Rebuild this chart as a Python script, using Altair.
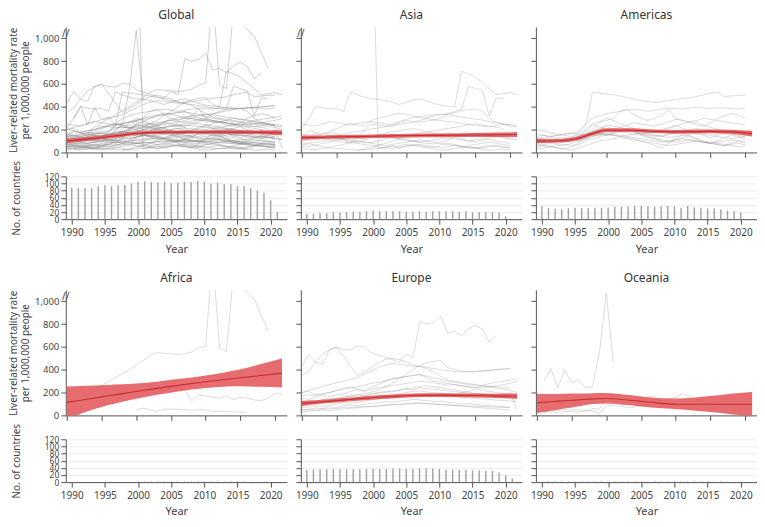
import altair as alt
import pandas as pd

YEARS = list(range(1990, 2022))
TREND_YEARS = [1990, 1992, 1994, 1996, 1998, 2000, 2003, 2006, 2010, 2015, 2018, 2021]
TICK_YEARS = [1990, 1995, 2000, 2005, 2010, 2015, 2020]
RATE_TICKS = [0, 200, 400, 600, 800, 1000]
COUNT_TICKS = [0, 20, 40, 60, 80, 100, 120]
N = None

# ---------------- country lines (rate per 1,000,000), 1990..2021 ----------------
asia_lines = {
    "as_a": [210, 300, 400, 390, 380, 385, 360, 530, 505, 485, 470, 465, 455, 440, 420, 440, 460, 470, 450, 430, 415, 405, 400, 710, 690, 660, 610, 560, 505, 515, 525, 505],
    "as_b": [N, N, N, N, N, N, N, N, N, N, 2500, 30, 45, 60, 40, 55, 70, 60, 50, 45, 65, 80, 70, 55, 45, 40, 50, 60, 55, 45, 40, N],
    "as_c": [120, 190, 175, 165, 180, 205, 235, 255, 240, 235, 280, 300, 315, 330, 345, 335, 320, 305, 300, 285, 280, 270, 265, 255, 245, 235, 230, 225, 235, 245, 230, 225],
    "as_d": [160, 150, 165, 140, 150, 130, 110, 85, 125, 200, 250, 240, 230, 225, 260, 280, 270, 265, 275, 285, 300, 335, 350, 365, 375, 385, 360, 300, 265, 250, 240, N],
    "as_e": [95, 105, 115, 125, 135, 145, 160, 175, 185, 190, 205, 215, 225, 245, 270, 290, 305, 315, 320, 330, 335, 330, 320, 310, 300, 290, 285, 270, 260, 250, 245, 235],
    "as_f": [60, 75, 65, 80, 90, 105, 120, 110, 100, 90, 85, 100, 115, 130, 120, 110, 100, 90, 80, 75, 90, 110, 130, 120, 100, 95, 105, 115, 100, 90, 80, N],
    "as_g": [40, 55, 60, 50, 45, 60, 70, 90, 80, 70, 60, 50, 40, 35, 40, 55, 60, 70, 60, 50, 40, 50, 65, 50, 40, 35, 40, 50, 60, 50, 40, N],
    "as_h": [20, 30, 25, 35, 40, 35, 30, 25, 20, 25, 30, 35, 45, 50, 60, 70, 60, 50, 40, 30, 20, 25, 35, 40, 50, 40, 30, 20, 25, 30, 20, N],
    "as_i": [140, 135, 150, 160, 170, 165, 150, 140, 130, 120, 135, 150, 170, 180, 190, 200, 210, 195, 180, 170, 160, 150, 140, 150, 160, 170, 165, 150, 140, 130, 120, N],
    "as_j": [75, 80, 90, 100, 115, 120, 110, 100, 90, 110, 130, 150, 140, 130, 120, 110, 100, 90, 100, 110, 120, 130, 120, 110, 100, 110, 120, 130, 140, 135, 120, 110],
    "as_k": [N, N, N, N, N, N, N, N, 20, 30, 45, 60, 80, 100, 120, 140, 160, 170, 180, 190, 200, 210, 220, 230, 245, 250, 240, 230, 220, 210, N, N],
    "as_l": [110, 120, 135, 120, 110, 100, 90, 80, 100, 90, 80, 70, 60, 70, 80, 90, 100, 110, 100, 90, 80, 70, 60, 50, 60, 70, 80, 90, 80, 70, 60, N],
    "as_m": [250, 240, 230, 250, 270, 260, 250, 240, 255, 265, 270, 260, 250, 240, 245, 255, 265, 280, 300, 320, 330, 340, 360, 380, 580, 560, 540, 320, 480, 470, N, N],
}

americas_lines = {
    "am_a": [120, 130, 140, 150, 160, 170, 180, 230, 530, 520, 512, 505, 495, 480, 470, 455, 445, 437, 445, 455, 465, 475, 480, 490, 505, 520, 528, 490, 495, 500, 503, N],
    "am_b": [100, 110, 120, 110, 120, 130, 180, 250, 300, 320, 340, 350, 360, 370, 380, 370, 360, 370, 380, 390, 385, 380, 390, 395, 390, 385, 390, 390, 385, 380, 390, N],
    "am_c": [140, 150, 130, 120, 100, 90, 150, 200, 250, 270, 280, 300, 360, 380, 330, 300, 280, 300, 320, 380, 300, 280, 260, 240, 230, 260, 300, 320, 340, 330, 300, N],
    "am_d": [80, 90, 100, 110, 100, 120, 130, 190, 240, 220, 200, 180, 190, 200, 210, 190, 170, 150, 140, 160, 180, 190, 200, 210, 200, 190, 180, 170, 160, 150, 140, N],
    "am_e": [60, 70, 80, 70, 60, 80, 100, 120, 180, 200, 230, 200, 180, 210, 190, 160, 140, 120, 100, 90, 110, 130, 150, 120, 90, 80, 100, 130, 150, 140, 120, N],
    "am_f": [200, 190, 170, 160, 150, 140, 150, 170, 200, 260, 300, 280, 250, 230, 210, 190, 180, 170, 190, 210, 230, 250, 270, 260, 240, 220, 200, 190, 180, 170, 160, N],
    "am_g": [30, 40, 50, 40, 30, 50, 70, 100, 120, 140, 150, 160, 150, 140, 130, 120, 110, 100, 90, 100, 110, 120, 110, 100, 90, 80, 90, 100, 110, 100, 90, N],
    "am_h": [160, 150, 140, 150, 160, 170, 160, 150, 180, 210, 240, 230, 220, 240, 260, 250, 240, 230, 250, 270, 290, 280, 270, 280, 300, 290, 280, 270, 260, 250, 240, N],
    "am_i": [50, 60, 50, 40, 30, 20, 40, 60, 80, 100, 110, 120, 130, 120, 110, 100, 90, 80, 70, 60, 70, 80, 90, 100, 90, 80, 70, 60, 70, 80, 70, N],
    "am_j": [110, 100, 90, 80, 90, 100, 110, 120, 140, 160, 150, 170, 190, 200, 180, 160, 150, 140, 150, 160, 170, 180, 190, 200, 190, 180, 170, 180, 190, 180, 170, N],
    "am_k": [90, 100, 110, 120, 130, 120, 100, 150, 180, 170, 160, 170, 180, 170, 160, 150, 130, 120, 110, 100, 90, 100, 110, 100, 90, 80, 70, 60, 80, 100, 90, N],
    "am_l": [70, 60, 50, 60, 70, 60, 80, 120, 140, 160, 180, 200, 220, 200, 180, 160, 170, 180, 200, 220, 240, 210, 190, 170, 150, 130, 150, 170, 190, 170, 150, N],
    "am_m": [130, 120, 110, 100, 110, 120, 130, 140, 150, 150, 160, 150, 140, 150, 160, 170, 160, 150, 140, 130, 140, 150, 160, 170, 160, 150, 140, 130, 120, 130, 140, N],
    "am_n": [N, 90, 100, 110, 120, 130, 140, 160, 180, 170, 160, 150, 140, 130, 120, 100, 80, 60, 40, 80, 120, 160, 140, 120, 100, 90, 80, 70, 60, 50, 60, N],
}

africa_lines = {
    "af_a": [N, N, N, 180, 220, 260, 295, 330, 365, 400, 440, 480, 530, 550, 545, 540, 535, 540, 555, 590, 610, 1400, 590, 560, 1240, 1130, 1080, 1020, 880, 740, N, N],
    "af_b": [N, N, N, 170, 200, 230, 225, 220, 220, 215, 220, 225, 220, 215, 220, 230, 240, 220, 130, 180, 170, 160, 150, 170, 140, 160, 150, 135, 130, 150, 195, 185],
    "af_c": [N, N, N, N, N, N, N, N, N, N, 50, 63, 50, 34, 54, 55, 55, 50, 45, 50, 48, 35, 36, 35, 30, 30, 25, N, N, N, N, N],
}

europe_lines = {
    "eu_a": [430, 533, 464, 450, 579, 593, 579, 573, 607, 599, 550, 530, 510, 490, 470, 536, 507, 822, 800, 815, 871, 722, 736, 699, 760, 790, 755, 645, 700, N, N, N],
    "eu_b": [350, 390, 470, 540, 575, 600, 520, 430, 350, 380, 420, 460, 490, 500, 490, 470, 440, 430, 420, 410, 400, 390, 385, 380, 380, 385, 390, 395, 400, 405, 410, N],
    "eu_c": [200, 220, 235, 255, 270, 285, 300, 315, 330, 360, 390, 420, 440, 455, 450, 440, 430, 430, 410, 380, 340, 310, 300, 290, 280, 270, 260, 250, 240, 230, 220, 200],
    "eu_d": [100, 110, 125, 135, 140, 150, 160, 170, 180, 190, 205, 220, 250, 280, 320, 360, 400, 440, 460, 475, 480, 420, 400, 390, 385, 385, 390, 395, 400, 405, 410, N],
    "eu_e": [200, 210, 180, 190, 200, 220, 240, 250, 230, 210, 250, 270, 300, 320, 330, 340, 350, 360, 330, 300, 290, 280, 270, 260, 250, 240, 260, 280, 290, 300, 310, 320],
    "eu_f": [80, 95, 105, 110, 125, 130, 145, 150, 165, 170, 185, 195, 200, 215, 220, 235, 240, 255, 260, 250, 245, 230, 225, 210, 205, 190, 185, 180, 175, 170, 165, 160],
    "eu_g": [50, 55, 65, 60, 75, 70, 85, 90, 85, 100, 105, 110, 120, 115, 125, 130, 140, 135, 130, 120, 125, 115, 110, 100, 105, 95, 90, 85, 80, 75, 70, N],
    "eu_h": [120, 130, 125, 140, 150, 145, 160, 170, 180, 175, 190, 200, 210, 205, 220, 230, 225, 240, 235, 230, 220, 215, 210, 200, 195, 190, 185, 180, 175, 170, 200, 40],
    "eu_i": [30, 38, 42, 47, 41, 52, 56, 63, 66, 72, 78, 81, 88, 93, 96, 104, 107, 112, 106, 101, 97, 92, 86, 83, 77, 71, 66, 62, 57, 52, 46, N],
    "eu_j": [150, 140, 160, 175, 165, 180, 190, 210, 225, 215, 230, 240, 250, 260, 270, 280, 290, 300, 295, 285, 275, 265, 270, 260, 250, 245, 240, 250, 260, 270, 280, 300],
    "eu_k": [70, 75, 85, 80, 90, 100, 110, 105, 115, 125, 135, 145, 150, 160, 165, 175, 180, 190, 185, 180, 175, 170, 165, 160, 155, 150, 145, 140, 135, 130, 125, 120],
    "eu_l": [110, 105, 115, 125, 130, 120, 135, 140, 150, 160, 155, 165, 175, 180, 190, 200, 210, 215, 205, 200, 195, 190, 185, 195, 210, 230, 220, 210, 200, 190, 180, N],
    "eu_m": [45, 50, 48, 55, 60, 62, 70, 68, 75, 80, 78, 85, 90, 95, 92, 98, 100, 105, 102, 98, 95, 90, 88, 85, 82, 80, 78, 75, 72, 70, 68, N],
    "eu_n": [170, 180, 175, 190, 200, 215, 230, 240, 250, 265, 280, 290, 300, 320, 330, 340, 350, 355, 345, 330, 315, 300, 290, 280, 270, 265, 260, 255, 250, 245, 240, N],
}

oceania_lines = {
    "oc_a": [N, 300, 410, 240, 395, 290, 310, 245, 250, 550, 1070, 460, N, N, N, N, N, N, N, N, N, N, N, N, N, N, N, N, N, N, N, N],
    "oc_b": [N, 25, 30, 28, 35, 32, 30, 38, 60, 55, 140, 150, 145, 140, 130, 150, 160, 170, N, N, N, N, N, N, N, N, N, N, N, N, N, N],
    "oc_c": [N, 35, 40, 45, 50, 48, 50, 45, 40, 20, 80, 90, 80, 70, 72, 80, 95, 120, 130, 140, 160, 190, 165, 140, 130, 120, 110, N, N, N, N, N],
}

# ---------------- trend (mean with confidence band) ----------------
global_mean = [100, 112, 125, 138, 152, 168, 176, 178, 178, 178, 176, 172]
global_lo = [80, 95, 109, 122, 136, 152, 161, 163, 163, 162, 159, 150]
global_hi = [120, 129, 141, 154, 168, 184, 191, 193, 193, 194, 193, 194]
asia_mean = [130, 132, 135, 137, 139, 142, 145, 148, 150, 153, 155, 157]
asia_lo = [112, 116, 119, 121, 123, 126, 129, 132, 134, 136, 136, 135]
asia_hi = [148, 148, 151, 153, 155, 158, 161, 164, 166, 170, 174, 179]
americas_mean = [100, 100, 105, 125, 165, 195, 195, 188, 180, 185, 180, 165]
americas_lo = [80, 84, 89, 108, 148, 178, 179, 172, 164, 168, 161, 140]
americas_hi = [120, 116, 121, 142, 182, 212, 211, 204, 196, 202, 199, 190]
africa_mean = [114, 133, 152, 172, 191, 210, 237, 263, 295, 330, 350, 370]
africa_lo = [-30, 15, 55, 90, 120, 145, 180, 210, 240, 255, 250, 245]
africa_hi = [254, 258, 262, 266, 272, 280, 295, 318, 350, 405, 450, 498]
europe_mean = [105, 115, 125, 135, 145, 155, 166, 175, 178, 174, 171, 168]
europe_lo = [83, 97, 108, 118, 128, 138, 149, 158, 161, 157, 152, 144]
europe_hi = [127, 133, 142, 152, 162, 172, 183, 192, 195, 191, 190, 192]
oceania_mean = [111, 120, 128, 136, 145, 148, 135, 118, 97, 97, 97, 97]
oceania_lo = [20, 40, 60, 80, 100, 105, 90, 72, 57, 30, 10, -10]
oceania_hi = [190, 188, 190, 192, 195, 197, 180, 160, 148, 170, 190, 205]

# ---------------- number of countries per year ----------------
global_counts = [88, 87, 88, 87, 92, 95, 93, 95, 96, 100, 105, 106, 104, 103, 105, 101, 102, 104, 104, 107, 105, 100, 102, 98, 98, 93, 93, 87, 80, 74, 53, 20]
asia_counts = [15, 15, 17, 17, 19, 19, 20, 21, 21, 22, 24, 22, 22, 22, 22, 21, 21, 22, 21, 22, 22, 22, 22, 21, 22, 19, 20, 20, 19, 19, 8, 1]
americas_counts = [36, 31, 29, 28, 31, 32, 31, 31, 32, 32, 33, 35, 35, 35, 37, 37, 36, 35, 36, 37, 36, 32, 37, 33, 32, 30, 30, 27, 24, 22, 19, 0]
africa_counts = [0, 0, 0, 0, 0, 0, 0, 0, 0, 0, 2, 2, 2, 2, 2, 2, 2, 2, 2, 2, 2, 2, 2, 2, 2, 2, 2, 1, 1, 1, 0, 0]
europe_counts = [34, 36, 36, 36, 36, 36, 36, 36, 36, 37, 37, 37, 37, 38, 38, 37, 37, 38, 38, 38, 37, 35, 35, 34, 34, 33, 33, 32, 31, 27, 19, 10]
oceania_counts = [1, 2, 2, 2, 2, 2, 2, 2, 2, 2, 2, 2, 2, 2, 2, 2, 2, 2, 2, 2, 2, 2, 2, 2, 2, 2, 2, 2, 1, 1, 1, 0]

# ---------------- layout / style ----------------
FONT = "Noto Sans"
W, H1, H2 = 222, 126, 43
XDOM = [1989.85, 2021.7]
GRAY_LINE = "#8a8a8a"
BAND = "#e4585b"
MEAN = "#c62f33"
BAR = "#a0a0a0"
AX = "#555555"


def lines_df(*groups):
    rows = []
    for g in groups:
        for cid, vals in g.items():
            for yr, v in zip(YEARS, vals):
                if v is not None:
                    rows.append({"id": cid, "year": yr, "rate": v})
    return pd.DataFrame(rows)


def trend_df(mean, lo, hi):
    return pd.DataFrame({"year": TREND_YEARS, "mean": mean, "lo": lo, "hi": hi})


def panel(name, ldf, tdf, counts, first, brk, opacity):
    xs = alt.Scale(domain=XDOM, nice=False, zero=False)
    x_top = alt.X("year:Q", scale=xs,
                  axis=alt.Axis(values=TICK_YEARS, labels=False, title=None, grid=False,
                                tickSize=5, domainColor=AX, tickColor=AX))
    yaxis = alt.Axis(values=RATE_TICKS, format=",d", grid=False, labels=first,
                     title=["Liver-related mortality rate", "per 1,000,000 people"] if first else "",
                     tickSize=5, labelPadding=2, titlePadding=4, labelFontSize=9.5,
                     titleFontSize=10, titleLineHeight=12,
                     domainColor=AX, tickColor=AX)
    ys = alt.Scale(domain=[0, 1100], nice=False, zero=True)

    def yenc(field):
        return alt.Y(field, scale=ys, axis=yaxis)

    gl = alt.Chart(ldf).mark_line(clip=True, color=GRAY_LINE, strokeWidth=0.8,
                                  opacity=opacity).encode(
        x=x_top, y=yenc("rate:Q"), detail="id:N")
    band = alt.Chart(tdf).mark_area(clip=True, color=BAND, opacity=0.88,
                                    interpolate="monotone").encode(
        x=x_top, y=yenc("lo:Q"), y2="hi:Q")
    mean = alt.Chart(tdf).mark_line(clip=True, color=MEAN, strokeWidth=1.1,
                                    interpolate="monotone").encode(
        x=x_top, y=yenc("mean:Q"))
    layers = [gl, band, mean]
    if brk:
        bdf = pd.DataFrame({"t": ["//"]})
        layers.append(alt.Chart(bdf).mark_text(fontSize=10, color="#444", font=FONT,
                                               align="center", baseline="middle").encode(
            x=alt.value(0), y=alt.value(7), text="t:N"))
    top = alt.layer(*layers).properties(
        width=W, height=H1,
        title=alt.TitleParams(name, offset=5, fontSize=12, font=FONT, frame="group",
                              fontWeight="normal", color="#333"))

    cdf = pd.DataFrame({"year": YEARS, "n": counts})
    cnt = alt.Chart(cdf).mark_bar(size=1.4, color=BAR).encode(
        x=alt.X("year:Q", scale=xs,
                axis=alt.Axis(values=TICK_YEARS, format="d", title="Year", grid=False,
                              labelFlush=False, tickSize=5, labelPadding=3,
                              labelFontSize=10, titleFontSize=11, titlePadding=6,
                              domainColor=AX, tickColor=AX)),
        y=alt.Y("n:Q", scale=alt.Scale(domain=[0, 120], nice=False),
                axis=alt.Axis(values=COUNT_TICKS, grid=True, gridColor="#ececec",
                              labels=first, labelOverlap=False, labelFontSize=8.5,
                              labelPadding=2, tickSize=5,
                              title="No. of countries" if first else "",
                              titleFontSize=10, titlePadding=23,
                              domainColor=AX, tickColor=AX)),
    ).properties(width=W, height=H2)
    return alt.vconcat(top, cnt, spacing=24, bounds="flush")


all_lines = lines_df(asia_lines, americas_lines, africa_lines, europe_lines, oceania_lines)

p_global = panel("Global", all_lines, trend_df(global_mean, global_lo, global_hi), global_counts, True, True, 0.5)
p_asia = panel("Asia", lines_df(asia_lines), trend_df(asia_mean, asia_lo, asia_hi), asia_counts, False, True, 0.38)
p_amer = panel("Americas", lines_df(americas_lines), trend_df(americas_mean, americas_lo, americas_hi), americas_counts, False, False, 0.38)
p_afr = panel("Africa", lines_df(africa_lines), trend_df(africa_mean, africa_lo, africa_hi), africa_counts, True, True, 0.38)
p_eur = panel("Europe", lines_df(europe_lines), trend_df(europe_mean, europe_lo, europe_hi), europe_counts, False, False, 0.38)
p_oce = panel("Oceania", lines_df(oceania_lines), trend_df(oceania_mean, oceania_lo, oceania_hi), oceania_counts, False, False, 0.38)

row1 = alt.hconcat(p_global, p_asia, p_amer, spacing=8)
row2 = alt.hconcat(p_afr, p_eur, p_oce, spacing=8)

chart = alt.vconcat(row1, row2, spacing=18).properties(
    padding={"left": 0, "top": 0, "right": 0, "bottom": 0}
).configure_view(stroke=None).configure_axis(
    labelFont=FONT, titleFont=FONT, labelColor="#444", titleColor="#444",
    titleFontWeight="normal"
)

chart.save("out.html", embed_options={"renderer": "svg", "actions": False})
